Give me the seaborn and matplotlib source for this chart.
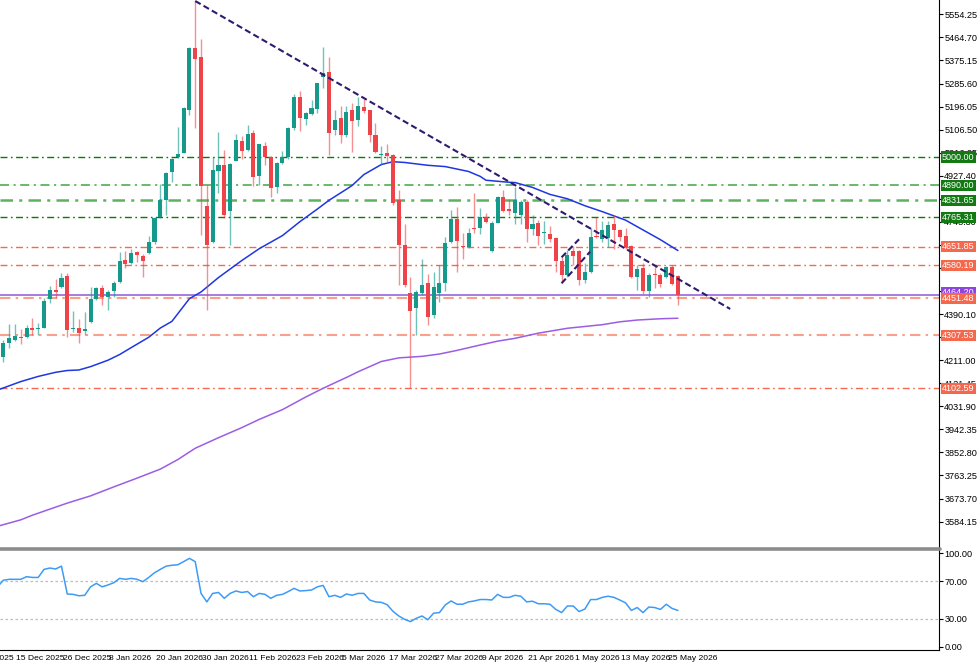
import matplotlib
matplotlib.use("Agg")
import matplotlib.pyplot as plt
import matplotlib.transforms as mtransforms
from matplotlib.lines import Line2D
import numpy as np
import pandas as pd
import seaborn as sns

# --- daily candles, index 0 = first visible bar ---
opens = [4224.6, 4279.0, 4289.4, 4302.2, 4299.9, 4334.9, 4331.0, 4337.2, 4447.5, 4483.6,
         4496.4, 4538.0, 4331.0, 4337.2, 4325.6, 4360.5, 4447.5, 4492.6, 4457.6, 4480.9,
         4515.9, 4600.2, 4587.4, 4631.2, 4616.9, 4628.5, 4671.2, 4766.0, 4833.2, 4943.1,
         5000.2, 5016.9, 5182.8, 5424.7, 5389.8, 4811.1, 4671.2, 4947.0, 4969.1, 4791.6,
         4985.8, 5062.4, 5027.4, 5092.3, 4927.6, 5042.9, 5001.4, 4882.5, 4978.1, 5001.4,
         5111.7, 5232.1, 5146.6, 5167.2, 5185.5, 5309.8, 5331.5, 5105.1, 5150.5, 5085.7,
         5182.8, 5142.0, 5194.4, 5182.8, 5085.7, 5006.8, 5014.6, 5008.0, 4833.2, 4658.4,
         4472.0, 4413.7, 4472.0, 4510.8, 4386.5, 4472.0, 4510.8, 4670.1, 4759.4, 4654.5,
         4650.7, 4724.4, 4724.4, 4767.2, 4635.1, 4743.9, 4844.9, 4798.2, 4782.7, 4774.9,
         4825.4, 4720.6, 4743.9, 4705.0, 4701.1, 4685.6, 4596.3, 4541.9, 4635.1, 4635.1,
         4522.5, 4553.6, 4693.4, 4681.7, 4685.6, 4740.0, 4716.7, 4693.4, 4654.5, 4534.1,
         4569.1, 4479.8, 4545.8, 4541.9, 4534.1, 4573.0, 4538.0]
highs = [4289.4, 4351.6, 4350.4, 4331.0, 4347.7, 4374.9, 4354.3, 4451.4, 4499.2, 4526.4,
         4548.5, 4548.5, 4402.1, 4369.8, 4399.4, 4496.4, 4496.4, 4503.1, 4483.6, 4519.8,
         4630.1, 4635.1, 4641.7, 4635.1, 4623.5, 4693.4, 4768.3, 4895.3, 4943.1, 4995.0,
         5116.7, 5195.6, 5428.0, 5606.1, 5457.4, 4891.5, 4999.1, 5096.2, 5027.4, 4975.7,
         5089.5, 5081.8, 5124.5, 5105.1, 5052.0, 5059.6, 5003.0, 4980.0, 5024.7, 5116.0,
         5244.9, 5257.7, 5174.0, 5221.6, 5289.0, 5426.3, 5389.8, 5182.8, 5198.3, 5198.3,
         5210.0, 5233.3, 5225.5, 5184.0, 5132.3, 5042.9, 5050.7, 5010.0, 4872.0, 4740.0,
         4534.1, 4483.6, 4604.0, 4545.8, 4553.6, 4580.7, 4689.5, 4794.4, 4806.0, 4705.0,
         4724.4, 4860.4, 4802.1, 4782.7, 4751.6, 4847.0, 4872.0, 4837.1, 4883.7, 4833.2,
         4833.2, 4774.9, 4755.5, 4751.6, 4732.2, 4688.0, 4611.8, 4639.0, 4654.5, 4639.0,
         4588.5, 4724.4, 4767.2, 4751.6, 4751.6, 4774.9, 4720.6, 4724.4, 4658.4, 4580.7,
         4588.5, 4549.7, 4580.7, 4549.7, 4576.9, 4580.7, 4540.0]
lows = [4205.2, 4257.2, 4285.0, 4272.8, 4296.0, 4308.9, 4308.9, 4335.0, 4432.0, 4451.4,
        4490.2, 4302.2, 4321.7, 4276.6, 4308.9, 4354.3, 4444.8, 4425.4, 4406.0, 4457.6,
        4512.0, 4567.9, 4584.6, 4592.4, 4535.3, 4623.5, 4662.3, 4762.1, 4774.9, 4904.3,
        4996.3, 5014.6, 5163.3, 5111.7, 4697.3, 4406.0, 4667.0, 4859.2, 4762.1, 4658.4,
        4983.0, 4991.3, 5025.0, 4887.6, 4891.5, 4969.1, 4846.0, 4859.2, 4973.0, 4991.3,
        5105.1, 5102.4, 5124.5, 5165.0, 5169.9, 5267.0, 5008.0, 5085.7, 5054.6, 5079.1,
        5019.6, 5120.6, 5173.0, 5059.6, 5014.6, 4969.1, 4976.9, 4813.8, 4503.1, 4495.3,
        4103.0, 4308.9, 4464.2, 4347.7, 4374.9, 4437.0, 4479.8, 4666.0, 4553.6, 4604.0,
        4646.8, 4705.0, 4701.1, 4745.0, 4633.0, 4742.0, 4786.6, 4774.9, 4740.0, 4740.0,
        4670.1, 4697.3, 4658.4, 4662.3, 4670.1, 4553.6, 4514.7, 4534.1, 4580.7, 4503.1,
        4510.8, 4549.7, 4686.0, 4670.1, 4650.7, 4642.9, 4674.0, 4642.9, 4530.2, 4483.6,
        4468.1, 4456.5, 4491.4, 4495.3, 4530.0, 4503.1, 4425.4]
closes = [4279.0, 4298.3, 4305.0, 4298.3, 4337.2, 4328.3, 4337.2, 4442.1, 4483.6, 4477.0,
          4529.1, 4328.3, 4337.2, 4317.8, 4331.0, 4447.5, 4492.6, 4457.6, 4477.0, 4512.0,
          4596.3, 4584.6, 4626.2, 4618.4, 4597.4, 4668.9, 4764.4, 4833.2, 4939.2, 4991.3,
          5011.9, 5189.4, 5424.7, 5380.8, 4887.6, 4658.4, 4949.7, 4969.1, 4774.9, 4973.0,
          5066.2, 5024.7, 5088.4, 4923.7, 5049.5, 4999.1, 4881.0, 4978.1, 5001.4, 5114.0,
          5232.1, 5150.5, 5172.3, 5189.4, 5286.5, 5327.6, 5092.3, 5143.9, 5085.7, 5176.2,
          5140.0, 5198.3, 5178.9, 5085.7, 5019.6, 5010.7, 5004.1, 4821.5, 4658.4, 4503.1,
          4402.1, 4475.9, 4503.1, 4378.8, 4495.3, 4510.8, 4666.2, 4759.4, 4674.0, 4650.7,
          4705.0, 4720.6, 4767.2, 4747.8, 4743.9, 4844.9, 4790.5, 4790.5, 4833.2, 4825.4,
          4720.6, 4740.0, 4693.4, 4708.9, 4681.7, 4596.3, 4541.9, 4619.6, 4615.7, 4522.5,
          4553.6, 4689.5, 4689.5, 4716.7, 4736.1, 4716.7, 4689.5, 4650.7, 4534.1, 4565.2,
          4479.8, 4541.9, 4541.9, 4507.0, 4573.0, 4507.0, 4464.2]

# moving averages (sampled off the chart)
ma_fast_idx = [-1, 3, 6, 9, 11, 13, 15, 18, 20, 22, 25, 27, 29, 32, 34, 37, 41, 44, 48, 51,
               54, 56, 59, 60, 62, 65, 67, 69, 73, 76, 80, 82, 83, 85, 87, 88, 91, 94, 97,
               100, 103, 107, 110, 113, 116]
ma_fast_val = [4095, 4128, 4148, 4164, 4171, 4173, 4186, 4211, 4233, 4260, 4300, 4336, 4362,
               4450, 4476, 4532, 4598, 4644, 4695, 4749, 4798, 4832, 4875, 4890, 4932, 4971,
               4982, 4979, 4968, 4963, 4944, 4925, 4910, 4906, 4902, 4901, 4882, 4855, 4838,
               4811, 4788, 4755, 4717, 4679, 4637]
ma_slow_idx = [-1, 3, 5, 11, 15, 19, 23, 27, 30, 33, 37, 41, 44, 48, 52, 55, 59, 61, 65, 68,
               72, 75, 78, 82, 85, 88, 92, 97, 103, 106, 109, 113, 116]
ma_slow_val = [3566, 3591, 3609, 3656, 3684, 3719, 3753, 3788, 3825, 3869, 3910, 3949, 3981,
               4019, 4068, 4102, 4144, 4166, 4206, 4220, 4226, 4235, 4249, 4270, 4285, 4296,
               4316, 4335, 4349, 4360, 4367, 4372, 4374]

# oscillator in the lower pane, one value per bar from index -1
rsi_val = [64, 71, 72, 72, 72, 74.8, 74, 74, 82.6, 84, 83, 86, 56.4, 56, 54.5, 55, 64, 67.7,
           64, 66, 68.4, 73, 72, 73, 72, 69.5, 74, 79, 82.6, 86, 87, 87.5, 90.8, 94.3, 90.8,
           57, 48, 57, 58, 51.8, 57, 59.6, 58, 59, 53.5, 57, 56, 51.8, 55, 56, 59, 62.4,
           59.6, 60, 60.6, 64, 65.5, 53.5, 55, 52.8, 56.4, 55, 57, 57, 50, 48, 47.5, 45, 38,
           33, 29.5, 27, 30.5, 33, 29, 36, 36.6, 44.7, 49, 45.5, 45.5, 48, 49, 50.5, 50.5, 50,
           56, 52.8, 52.8, 55, 54, 48, 48.7, 46, 46, 45.5, 40, 36.6, 43.6, 43.6, 37.7, 40.4,
           50.5, 50.5, 52.8, 54, 52.8, 50, 47, 38.9, 42, 36.6, 42.5, 42, 40, 45.5, 41, 38.9]
rsi_levels = [70, 30]

# horizontal levels drawn on the chart
green_levels = [5000.00, 4890.00, 4831.65, 4765.31]
red_levels = [4651.85, 4580.19, 4451.48, 4307.53, 4102.59]
bid_price = 4464.2
bid_label = "4464.20"

# trend lines (bar index, price)
trend_x = [33, 125]
trend_y = [5606.1, 4410.0]
chan1_x = [96, 99]
chan1_y = [4610.6, 4680.6]
chan2_x = [96, 100.9]
chan2_y = [4509.7, 4632.4]

# price axis and date axis labels
price_ticks = [5554.25 - 89.55 * k for k in range(23)]
rsi_ticks = [100, 70, 30, 0]
date_idx = [-6, 2, 10, 18, 26, 34, 42, 50, 58, 66, 74, 82, 90, 98, 106, 114]
date_lbl = ["3 Dec 2025", "15 Dec 2025", "26 Dec 2025", "8 Jan 2026", "20 Jan 2026",
            "30 Jan 2026", "11 Feb 2026", "23 Feb 2026", "5 Mar 2026", "17 Mar 2026",
            "27 Mar 2026", "9 Apr 2026", "21 Apr 2026", "1 May 2026", "13 May 2026",
            "25 May 2026"]

df = pd.DataFrame({"open": opens, "high": highs, "low": lows, "close": closes})
df["idx"] = np.arange(len(df))
df["bull"] = df["close"] >= df["open"]

sns.set_style("white")
plt.rcParams["font.family"] = ["Liberation Sans", "DejaVu Sans"]

BULL = "#14998A"
BEAR = "#EE4449"
DKGREEN = "#0B7A0B"
LTGREEN = "#5DB35D"
RED = "#F26A4F"
LTRED = "#F7A08C"

W, H = 980, 663
fig = plt.figure(figsize=(W / 100, H / 100), dpi=100)
ax = fig.add_axes([0, (H - 547) / H, 939 / W, 547 / H])
ax2 = fig.add_axes([0, (H - 650) / H, 939 / W, 100 / H])

xlim = (-0.57, 160.9)

# --- main pane ---
for lv, c, lw in zip(green_levels, [DKGREEN, LTGREEN, LTGREEN, DKGREEN], [1.0, 1.3, 1.8, 1.0]):
    ax.axhline(lv, color=c, lw=lw, ls=(0, (5, 2.5, 1.2, 2.5)), zorder=1)
for lv, c, lw in zip(red_levels, [RED, RED, LTRED, LTRED, RED], [1.0, 1.0, 1.5, 1.5, 1.0]):
    ax.axhline(lv, color=c, lw=lw, ls=(0, (5, 2.5, 1.2, 2.5)), zorder=1)
ax.axhline(bid_price, color="#A67BE0", lw=1.4, zorder=1)

sns.lineplot(x=ma_slow_idx, y=ma_slow_val, ax=ax, color="#9B5DE5", lw=1.1,
             estimator=None, sort=False, zorder=2)
sns.lineplot(x=ma_fast_idx, y=ma_fast_val, ax=ax, color="#1F37E0", lw=1.1,
             estimator=None, sort=False, zorder=2)

wick_cols = np.where(df["bull"], BULL, BEAR)
ax.vlines(df["idx"], df["low"], df["high"], colors=wick_cols, lw=1.0, alpha=0.6, zorder=3)
body_h = np.maximum((df["close"] - df["open"]).abs(), 4.0)
body_b = np.minimum(df["open"], df["close"])
ax.bar(df["idx"], body_h, bottom=body_b, width=0.7, color=wick_cols, lw=0, zorder=4)

ax.plot(trend_x, trend_y, color="#2E1A6E", lw=1.5, ls=(0, (3, 1.6)), zorder=5)
ax.plot(chan1_x, chan1_y, color="#2E1A6E", lw=1.5, ls=(0, (3, 1.6)), zorder=5)
ax.plot(chan2_x, chan2_y, color="#2E1A6E", lw=1.5, ls=(0, (3, 1.6)), zorder=5)

ax.set_xlim(*xlim)
ax.set_ylim(3485.5, 5610)
ax.set_xticks([])
ax.yaxis.tick_right()
ax.set_yticks(price_ticks)
ax.set_yticklabels([f"{v:.2f}" for v in price_ticks])
ax.tick_params(axis="y", direction="out", length=3, width=0.8, pad=0.8, labelsize=6.6,
               colors="black")
for s in ["left", "top", "bottom"]:
    ax.spines[s].set_visible(False)
ax.spines["right"].set_color("black")
ax.spines["right"].set_linewidth(0.8)
ax.set_xlabel("")
ax.set_ylabel("")

# price boxes on the right axis
tr = mtransforms.blended_transform_factory(ax.transAxes, ax.transData)
box_x = 1 + 3 / 939
ax.text(box_x, bid_price + 9, bid_label, transform=tr, ha="left", va="center", fontsize=6.5,
        color="white", clip_on=False, zorder=8,
        bbox=dict(boxstyle="square,pad=0.12", fc="#8E44E0", ec="none"))
for lv in green_levels:
    ax.text(box_x, lv, f"{lv:.2f}", transform=tr, ha="left", va="center", fontsize=6.5,
            color="white", clip_on=False, zorder=9,
            bbox=dict(boxstyle="square,pad=0.12", fc="#137A13", ec="none"))
for lv in red_levels:
    ax.text(box_x, lv, f"{lv:.2f}", transform=tr, ha="left", va="center", fontsize=6.5,
            color="white", clip_on=False, zorder=9,
            bbox=dict(boxstyle="square,pad=0.12", fc="#F4694E", ec="none"))

# --- oscillator pane ---
for lv in rsi_levels:
    ax2.axhline(lv, color="#BDBDBD", lw=0.9, ls=(0, (2, 2)), zorder=1)
rsi_idx = list(range(-1, len(rsi_val) - 1))
sns.lineplot(x=rsi_idx, y=rsi_val, ax=ax2, color="#3D9BF5", lw=1.1,
             estimator=None, sort=False, zorder=3)
ax2.set_xlim(*xlim)
ax2.set_ylim(-3.2, 103.2)
ax2.yaxis.tick_right()
ax2.set_yticks(rsi_ticks)
ax2.set_yticklabels([f"{v:.2f}" for v in rsi_ticks])
ax2.tick_params(axis="y", direction="out", length=3, width=0.8, pad=0.8, labelsize=6.6,
                colors="black")
vis = [i for i in date_idx if i >= xlim[0]]
ax2.set_xticks(vis)
ax2.set_xticklabels([])
ax2.tick_params(axis="x", direction="out", length=3, width=0.8, colors="black")
for s in ["left", "top"]:
    ax2.spines[s].set_visible(False)
for s in ["right", "bottom"]:
    ax2.spines[s].set_color("black")
    ax2.spines[s].set_linewidth(0.8)
ax2.set_xlabel("")
ax2.set_ylabel("")

trx = mtransforms.blended_transform_factory(ax2.transData, ax2.transAxes)
for i, lbl in zip(date_idx, date_lbl):
    ax2.text(i + 0.25, -0.08, lbl, transform=trx, ha="left", va="center", fontsize=6.1,
             color="black", clip_on=False)

# pane separator
fig.add_artist(Line2D([0, 940 / W], [(H - 548.5) / H] * 2, color="#8C8C8C", lw=2.6))

fig.savefig("out.png", dpi=100, facecolor="white")
